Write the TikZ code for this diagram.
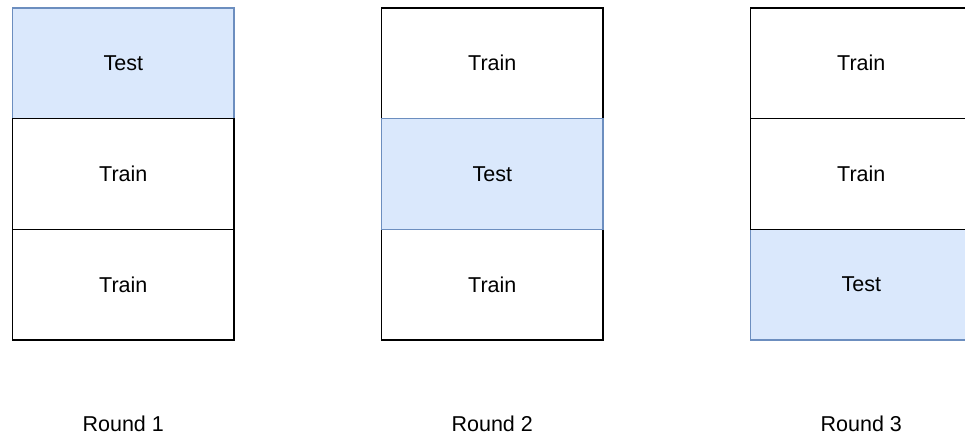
\documentclass[tikz,border=0pt]{standalone}
\usepackage{fontspec}
\setmainfont{Liberation Sans}
\definecolor{testfill}{HTML}{DAE8FC}
\definecolor{teststroke}{HTML}{6C8EBF}
\begin{document}
\begin{tikzpicture}[x=1pt,y=-1pt,
  cell/.style={draw=black,fill=white,line width=1.4pt,minimum width=221.5pt,minimum height=110.7pt,inner sep=0pt,anchor=center,font=\fontsize{21.5}{25}\selectfont},
  testcell/.style={cell,draw=teststroke,fill=testfill},
  lbl/.style={font=\fontsize{21.5}{25}\selectfont,inner sep=0pt}]
\clip (0,0) rectangle (965,436);
\useasboundingbox (0,0) rectangle (965,436);
% column 1
\node[testcell] (a1) at (123.25,63.3) {Test};
\node[cell] (a2) at (123.25,174) {Train};
\node[cell] (a3) at (123.25,284.7) {Train};
% column 2
\node[cell] (b1) at (492.25,63.3) {Train};
\node[cell] (b3) at (492.25,284.7) {Train};
\node[testcell] (b2) at (492.25,174) {Test};
% column 3
\node[testcell] (c3) at (861.25,284.7) {Test};
\node[cell] (c1) at (861.25,63.3) {Train};
\node[cell] (c2) at (861.25,174) {Train};
% labels
\node[lbl] (l1) at (123.25,424) {Round 1};
\node[lbl] (l2) at (492.25,424) {Round 2};
\node[lbl] (l3) at (861.25,424) {Round 3};
\end{tikzpicture}
\end{document}
